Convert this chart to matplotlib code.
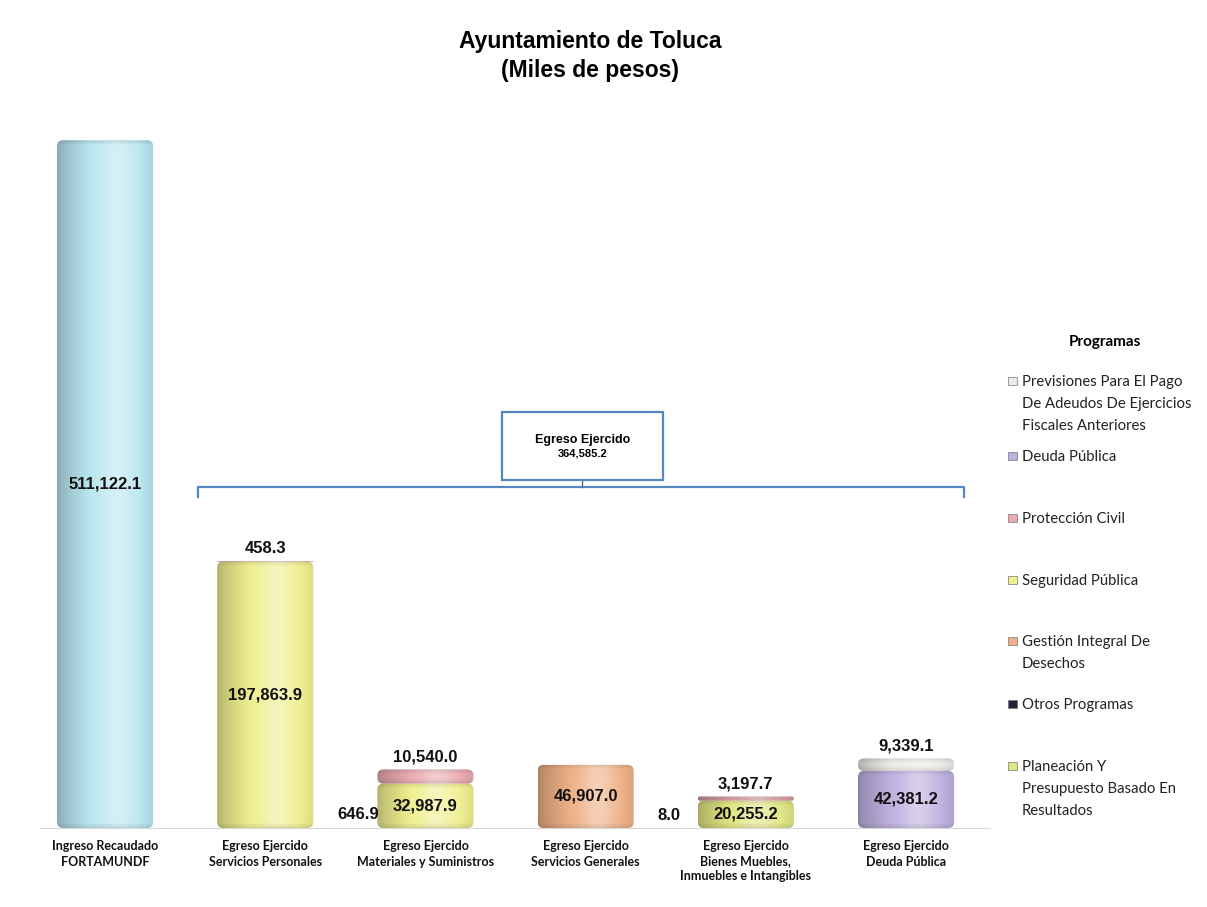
import numpy as np
import matplotlib
matplotlib.use("Agg")
import matplotlib.pyplot as plt
from matplotlib.patches import FancyBboxPatch, Rectangle
from matplotlib.colors import to_rgb

# ---- data (miles de pesos) ----
categories = [
    "Ingreso Recaudado\nFORTAMUNDF",
    "Egreso Ejercido\nServicios Personales",
    "Egreso Ejercido\nMateriales y Suministros",
    "Egreso Ejercido\nServicios Generales",
    "Egreso Ejercido\nBienes Muebles,\nInmuebles e Intangibles",
    "Egreso Ejercido\nDeuda Pública",
]
ingreso = [511122.1, 0, 0, 0, 0, 0]
seguridad = [0, 197863.9, 32987.9, 0, 0, 0]
planeacion = [0, 0, 0, 0, 20255.2, 0]
gestion = [0, 0, 0, 46907.0, 0, 0]
deuda = [0, 0, 0, 0, 0, 42381.2]
proteccion = [0, 458.3, 10540.0, 0, 3197.7, 0]
previsiones = [0, 0, 0, 0, 0, 9339.1]
otros = [0, 646.9, 0, 8.0, 0, 0]

legend_labels = [
    "Previsiones Para El Pago\nDe Adeudos De Ejercicios\nFiscales Anteriores",
    "Deuda Pública",
    "Protección Civil",
    "Seguridad Pública",
    "Gestión Integral De\nDesechos",
    "Otros Programas",
    "Planeación Y\nPresupuesto Basado En\nResultados",
]

# ---- colours ----
c_ingreso = "#b8e6f0"
c_seguridad = "#efef8e"
c_planeacion = "#e0e682"
c_gestion = "#eeb086"
c_deuda = "#beb0e0"
c_proteccion = "#eaaab0"
c_previsiones = "#eeece8"
c_otros = "#1f2238"
legend_colors = [c_previsiones, c_deuda, c_proteccion, c_seguridad,
                 c_gestion, c_otros, c_planeacion]

W, H = 1207, 907
fig = plt.figure(figsize=(W / 100, H / 100), dpi=100)
ax_l, ax_r, ax_b, ax_t = 40, 990, 828, 100   # pixels
ax = fig.add_axes([ax_l / W, (H - ax_b) / H, (ax_r - ax_l) / W, (ax_b - ax_t) / H])
xlim = (-0.406, 5.524)
ylim = (0, 541000)
ax.set_xlim(*xlim)
ax.set_ylim(*ylim)
px_x = (ax_r - ax_l) / (xlim[1] - xlim[0])
px_y = (ax_b - ax_t) / (ylim[1] - ylim[0])

x = np.arange(len(categories))
bw = 0.6


def cylinder(xc, y0, h, color):
    if h <= 0:
        return
    hpx = h * px_y
    r_px = min(6.0, hpx / 2)
    base = np.array(to_rgb(color))
    nx = 80
    ny = max(2, int(hpx))
    t = np.linspace(0, 1, nx)
    # darker on the left edge, highlight right of centre
    shade = 0.74 + 0.26 * np.clip(t / 0.35, 0, 1) ** 0.7
    shade = shade - 0.08 * np.clip((t - 0.85) / 0.15, 0, 1)
    hl = 0.40 * np.exp(-((t - 0.62) / 0.18) ** 2)
    row = base[None, :] * shade[:, None]
    row = row + (1 - row) * hl[:, None]
    v = np.linspace(0, 1, ny)
    vf = 1 - 0.10 * (np.clip(1 - v * hpx / 5, 0, 1) + np.clip(1 - (1 - v) * hpx / 5, 0, 1))
    img = row[None, :, :] * vf[:, None, None]
    img = np.clip(img, 0, 1)
    x0, x1 = xc - bw / 2, xc + bw / 2
    patch = FancyBboxPatch((x0, y0), bw, h,
                           boxstyle=f"round,pad=0,rounding_size={r_px / px_x}",
                           mutation_aspect=px_x / px_y,
                           facecolor="none", edgecolor="none")
    ax.add_patch(patch)
    im = ax.imshow(img, extent=(x0, x1, y0, y0 + h), aspect="auto",
                   origin="lower", interpolation="bilinear", zorder=2)
    im.set_clip_path(patch)


lbl = dict(fontsize=12, fontweight="bold", family="Liberation Sans",
           color="#111111", zorder=5)

bottoms_series = [(ingreso, c_ingreso), (seguridad, c_seguridad),
                  (planeacion, c_planeacion), (gestion, c_gestion), (deuda, c_deuda)]
top_series = [(proteccion, c_proteccion), (previsiones, c_previsiones)]

for i, xc in enumerate(x):
    y = 0
    for vals, col in bottoms_series:
        v = vals[i]
        if v > 0:
            cylinder(xc, y, v, col)
            ax.text(xc, y + v / 2, f"{v:,.1f}", ha="center", va="center", **lbl)
            y += v
    for vals, col in top_series:
        v = vals[i]
        if v > 0:
            cylinder(xc, y, v, col)
            y += v
            ax.text(xc, y + 5 / px_y, f"{v:,.1f}", ha="center", va="bottom", **lbl)
    if otros[i] > 0:
        # too small to be seen, only the label shows
        ax.text(xc + 0.45, otros[i] + 5 / px_y, f"{otros[i]:,.1f}",
                ha="left", va="bottom", **lbl)

# axes styling
for s in ["top", "right", "left"]:
    ax.spines[s].set_visible(False)
ax.spines["bottom"].set_color("#d9d9d9")
ax.set_yticks([])
ax.set_xticks(x)
ax.set_xticklabels(categories, fontsize=9, fontweight="bold",
                   family="Lato", color="#111111", va="top", linespacing=1.3)
ax.tick_params(axis="x", length=0, pad=9)

# bracket for total egreso
egreso_total = sum(sum(s) for s in [seguridad, planeacion, gestion, deuda,
                                    proteccion, previsiones, otros])
bc = "#5588c0"
yb = (ax_b - 487) / px_y
ax.plot([0.58, 0.58, 5.36, 5.36], [yb - 10 / px_y, yb, yb, yb - 10 / px_y],
        color=bc, lw=1.6, zorder=3, clip_on=False)
ax.plot([2.98, 2.98], [yb, yb + 7 / px_y], color="#666666", lw=1, zorder=3)
ax.add_patch(Rectangle((2.48, yb + 7 / px_y), 1.0, 68 / px_y,
                       facecolor="white", edgecolor=bc, lw=1.6, zorder=3))
ax.text(2.98, yb + 47 / px_y, "Egreso Ejercido", ha="center", va="center",
        fontsize=9, fontweight="bold", family="Liberation Sans", zorder=4)
ax.text(2.98, yb + 33 / px_y, f"{egreso_total:,.1f}", ha="center", va="center",
        fontsize=8, fontweight="bold", family="Liberation Sans", zorder=4)

# title
fig.text(590 / W, 1 - 56 / H, "Ayuntamiento de Toluca\n(Miles de pesos)",
         ha="center", va="center", fontsize=16.5, fontweight="bold",
         family="Liberation Sans", linespacing=1.3)

# legend (manual, Excel-like spacing)
fig.text(1105 / W, 1 - 342 / H, "Programas", ha="center", va="center",
         fontsize=11, fontweight="bold", family="Lato")
leg_y = [381, 456, 518, 580, 641, 704, 766]
for lab, col, yy in zip(legend_labels, legend_colors, leg_y):
    fig.patches.append(Rectangle((1008 / W, 1 - (yy + 4) / H), 9 / W, 8 / H,
                                 transform=fig.transFigure, facecolor=col,
                                 edgecolor="#777777", lw=0.5))
    fig.text(1022 / W, 1 - (yy - 6) / H, lab, ha="left", va="top",
             fontsize=10.7, family="Lato", color="#222222", linespacing=1.72)

fig.savefig("out.png", dpi=100, facecolor="white")
